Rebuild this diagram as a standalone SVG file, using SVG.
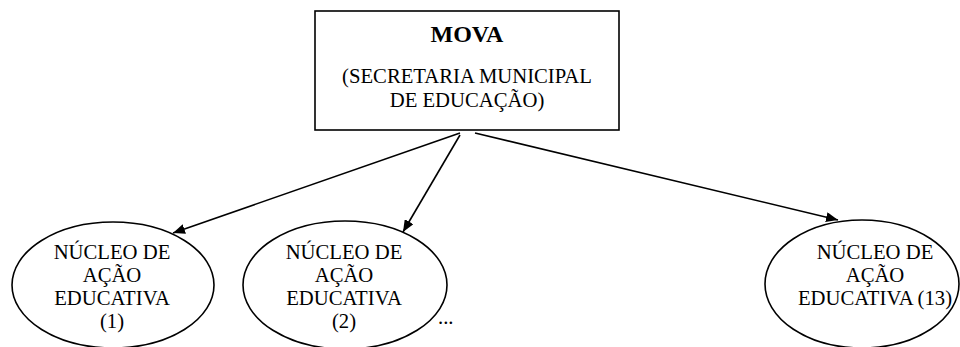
<svg xmlns="http://www.w3.org/2000/svg" width="960" height="347" viewBox="0 0 960 347">
<style>
.t{font-family:"Liberation Serif","Times New Roman",serif;font-size:20.7px;fill:#000;text-anchor:middle}
.b{font-weight:bold;font-size:24px}
.shape{fill:#fff;stroke:#000;stroke-width:1.6}
.conn{stroke:#000;stroke-width:1.6;fill:none}
</style>
<defs>
<marker id="ah" viewBox="0 0 10 10" refX="10" refY="5" markerWidth="12" markerHeight="10" markerUnits="userSpaceOnUse" orient="auto" preserveAspectRatio="none">
<path d="M0,0 L10,5 L0,10 Z" fill="#000"/>
</marker>
</defs>
<rect width="960" height="347" fill="#fff"/>
<g id="mova">
<rect class="shape" x="315" y="11" width="304" height="119"/>
<text class="t b" x="467" y="42">MOVA</text>
<text class="t" x="467" y="83">(SECRETARIA MUNICIPAL</text>
<text class="t" x="467" y="107">DE EDUCAÇÃO)</text>
</g>
<g id="nucleo1">
<ellipse class="shape" cx="113" cy="285" rx="101" ry="63"/>
<text class="t" x="112" y="259">NÚCLEO DE</text>
<text class="t" x="112" y="282">AÇÃO</text>
<text class="t" x="112" y="305">EDUCATIVA</text>
<text class="t" x="112" y="328">(1)</text>
</g>
<g id="nucleo2">
<ellipse class="shape" cx="345" cy="285" rx="102" ry="64"/>
<text class="t" x="344" y="259">NÚCLEO DE</text>
<text class="t" x="344" y="282">AÇÃO</text>
<text class="t" x="344" y="305">EDUCATIVA</text>
<text class="t" x="344" y="328">(2)</text>
</g>
<g id="ellipsis">
<text class="t" x="438" y="324" style="text-anchor:start">...</text>
</g>
<g id="nucleo13">
<ellipse class="shape" cx="862" cy="284" rx="97" ry="64"/>
<text class="t" x="875" y="259">NÚCLEO DE</text>
<text class="t" x="875" y="282">AÇÃO</text>
<text class="t" x="875" y="305">EDUCATIVA (13)</text>
</g>
<g id="connectors">
<line class="conn" x1="460" y1="133" x2="173" y2="233" marker-end="url(#ah)"/>
<line class="conn" x1="460" y1="135" x2="403" y2="232" marker-end="url(#ah)"/>
<line class="conn" x1="475" y1="133" x2="838" y2="220" marker-end="url(#ah)"/>
</g>
</svg>
